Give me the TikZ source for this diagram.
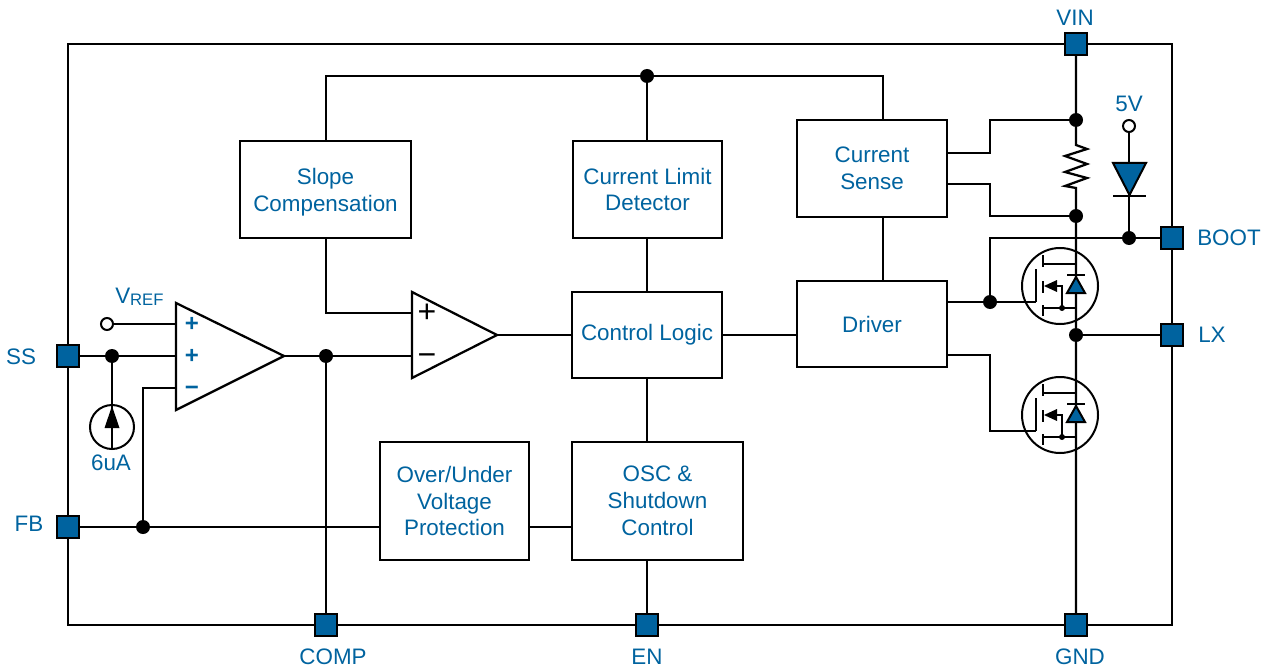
\documentclass[tikz,border=0pt]{standalone}
\usepackage{fontspec}
\setmainfont{Liberation Sans}
\definecolor{tiblue}{HTML}{00639F}
\def\px{0.75pt}
\tikzset{
  wire/.style={line width=1.7pt,black,line join=miter},
  thin wire/.style={line width=1.5pt,black},
  chipbox/.style={draw,line width=1.6pt,inner sep=0pt,outer sep=0pt,minimum width=1104*\px,minimum height=581*\px},
  fb/.style={draw,line width=1.6pt,inner sep=0pt,outer sep=0pt,text=tiblue,align=center,font=\fontsize{16.8}{20.2}\selectfont},
  pin/.style={draw,line width=1.5pt,fill=tiblue,inner sep=0pt,outer sep=0pt,minimum size=22*\px},
  dot/.style={circle,fill=black,inner sep=0pt,outer sep=0pt,minimum size=14*\px},
  smalldot/.style={circle,fill=black,inner sep=0pt,outer sep=0pt,minimum size=6*\px},
  opencirc/.style={circle,draw,line width=1.5pt,fill=white,inner sep=0pt,outer sep=0pt,minimum size=12*\px},
  lbl/.style={text=tiblue,inner sep=0pt,font=\fontsize{16.8}{20.2}\selectfont},
  sign/.style={text=tiblue,inner sep=0pt,font=\bfseries\fontsize{18}{18}\selectfont},
  bsign/.style={text=black,inner sep=0pt,font=\fontsize{24}{24}\selectfont},
  mosdiode/.style={draw=black,line width=1.5pt,fill=tiblue,line join=miter},
}
\begin{document}
\begin{tikzpicture}[x=0.75pt,y=-0.75pt]
\useasboundingbox (0,0) rectangle (1269,670);
% chip outline
\node[chipbox] (chip) at (620,334.5) {};
% function blocks
\node[fb,minimum width=171*\px,minimum height=97*\px] (slope) at (325.5,189.5) {\rule{0pt}{16pt}Slope\\Compensation};
\node[fb,minimum width=149*\px,minimum height=97*\px] (limit) at (647.5,189.5) {Current Limit\\Detector};
\node[fb,minimum width=150*\px,minimum height=97*\px] (sense) at (872,168.5) {Current\\Sense};
\node[fb,minimum width=150*\px,minimum height=86*\px] (logic) at (647,335) {Control Logic};
\node[fb,minimum width=150*\px,minimum height=86*\px] (driver) at (872,324) {Driver};
\node[fb,minimum width=149*\px,minimum height=118*\px] (ovp) at (454.5,501) {Over/Under\\Voltage\\Protection};
\node[fb,minimum width=171*\px,minimum height=118*\px] (osc) at (657.5,501) {OSC \&\\Shutdown\\Control};
% pins
\node[pin] (vin) at (1076,44) {};
\node[pin] (boot) at (1172,238) {};
\node[pin] (lx) at (1172,335) {};
\node[pin] (gnd) at (1076,625) {};
\node[pin] (en) at (647,625) {};
\node[pin] (comp) at (326,625) {};
\node[pin] (fbpin) at (68,527) {};
\node[pin] (ss) at (68,356) {};
% pin labels
\node[lbl] (lvin) at (1075,18) {VIN};
\node[lbl,anchor=west] (lboot) at (1197,238) {BOOT};
\node[lbl,anchor=west] (llx) at (1198,335) {LX};
\node[lbl] (lgnd) at (1080,657) {GND};
\node[lbl] (len) at (647,657) {EN};
\node[lbl] (lcomp) at (333,657) {COMP};
\node[lbl] (lfb) at (29,524) {FB};
\node[lbl] (lss) at (21,357) {SS};
\node[lbl] (l5v) at (1129,104) {5V};
\node[lbl] (l6ua) at (111,463) {6uA};
\node[lbl,anchor=base west] (lvref) at (115,303) {V\raisebox{-2pt}{\fontsize{12.5}{12.5}\selectfont REF}};
% junctions
\node[dot] (jtop) at (647,76) {};
\node[dot] (jr1) at (1076,120) {};
\node[dot] (jr2) at (1076,216) {};
\node[dot] (jlx) at (1076,335) {};
\node[dot] (jboot) at (1129,238) {};
\node[dot] (jgate) at (990,302) {};
\node[dot] (jcomp) at (326,356) {};
\node[dot] (jss) at (112,356) {};
\node[dot] (jfb) at (143,527) {};
\node[opencirc] (vrefc) at (107,324) {};
\node[opencirc] (fivec) at (1129,126) {};
% amplifiers
\coordinate (oa1) at (176,303); \coordinate (oa2) at (176,410); \coordinate (oaout) at (284,356);
\coordinate (oain1) at (176,324); \coordinate (oain2) at (176,356); \coordinate (oain3) at (176,388);
\draw[wire] (oa1) -- (oaout) -- (oa2) -- cycle;
\node[sign] (op1) at (192,324) {+};
\node[sign] (op2) at (192,356) {+};
\node[sign] (op3) at (192,391) {−};
\coordinate (cm1) at (412,292); \coordinate (cm2) at (412,378); \coordinate (cmout) at (497,335);
\coordinate (cmin1) at (412,313); \coordinate (cmin2) at (412,356);
\draw[wire] (cm1) -- (cmout) -- (cm2) -- cycle;
\node[bsign] (cp1) at (427,313) {+};
\node[bsign] (cp2) at (427,360) {−};
% top bus
\coordinate (tl) at (326,76); \coordinate (tr) at (883,76);
\coordinate (st) at (326,141); \coordinate (sb) at (326,238);
\coordinate (set) at (883,120); \coordinate (seb) at (883,217); \coordinate (drt) at (883,281);
\draw[wire] (st) -- (tl) -- (jtop) -- (tr) -- (set);
\draw[wire] (jtop) -- (jtop |- limit.north);
\draw[wire] (seb) -- (drt);
\draw[wire] (jtop |- limit.south) -- (jtop |- logic.north);
\draw[wire] (jtop |- logic.south) -- (jtop |- osc.north);
\draw[wire] (logic.east) -- (logic.east -| driver.west);
\draw[wire] (cmout) -- (logic.west);
\draw[wire] (sb) |- (cmin1);
\draw[wire] (oaout) -- (jcomp) -- (cmin2);
\draw[wire] (jcomp) -- (comp);
\draw[wire] (vrefc) -- (oain1);
\draw[wire] (ss) -- (jss) -- (oain2);
\draw[wire] (fbpin) -- (jfb) -- (ovp.west |- jfb);
\draw[wire] (jfb) |- (oain3);
\coordinate (ovpe) at (529,527); \coordinate (osw) at (572,527);
\draw[wire] (ovpe) -- (osw);
\coordinate (oscb) at (647,560);
\draw[wire] (oscb) -- (en);
% current source
\node[circle,draw,line width=1.5pt,inner sep=0pt,outer sep=0pt,minimum size=44*\px] (isrc) at (112,427) {};
\coordinate (isb) at (112,449);
\draw[wire] (jss) -- (isb);
\coordinate (isa) at (112,406); \coordinate (isl) at (104.5,428); \coordinate (isr) at (119.5,428);
\fill (isa) -- (isr) -- (isl) -- cycle;
% power rail
\coordinate (rt) at (1076,145); \coordinate (rb) at (1076,188);
\draw[wire] (vin) -- (jr1) -- (rt) -- (1087,149) -- (1065,156) -- (1087,164) -- (1065,172) -- (1087,178) -- (1065,186) -- (rb) -- (jr2) -- (jlx) -- (gnd);
\draw[wire] (jlx) -- (lx);
% sense connections
\coordinate (seo1) at (947,153); \coordinate (seo2) at (947,184);
\coordinate (b1) at (990,153); \coordinate (b2) at (990,120);
\coordinate (b3) at (990,184); \coordinate (b4) at (990,216);
\draw[wire] (seo1) -- (b1) -- (b2) -- (jr1);
\draw[wire] (seo2) -- (b3) -- (b4) -- (jr2);
% boot
\coordinate (b5) at (990,238);
\draw[wire] (jgate) -- (b5) -- (jboot) -- (boot);
\draw[wire] (fivec) -- (jboot);
\coordinate (dt1) at (1113,163); \coordinate (dt2) at (1146,163); \coordinate (dt3) at (1129.5,195);
\draw[mosdiode] (dt1) -- (dt2) -- (dt3) -- cycle;
\coordinate (db1) at (1113,196); \coordinate (db2) at (1146,196);
\draw[thin wire] (db1) -- (db2);
% driver to gates
\coordinate (dro1) at (947,302); \coordinate (g1) at (1036,302);
\draw[wire] (dro1) -- (jgate) -- (g1);
\coordinate (dro2) at (947,355); \coordinate (b6) at (990,355); \coordinate (b7) at (990,431); \coordinate (g2) at (1036,431);
\draw[wire] (dro2) -- (b6) -- (b7) -- (g2);
% MOSFETs
\foreach \n/\dy in {a/0,b/129}{
  \begin{scope}[yshift=-0.75pt*\dy]
    \node[circle,draw,line width=1.5pt,inner sep=0pt,outer sep=0pt,minimum size=76*\px] (mos\n) at (1060,286) {};
    \draw[thin wire] (1036,269) -- (1036,302);
    \draw[wire] (1043,255) -- (1043,267);
    \draw[wire] (1043,281) -- (1043,293);
    \draw[wire] (1043,305) -- (1043,316);
    \draw[thin wire] (1043,264) -- (1076,264);
    \draw[thin wire] (1043,308) -- (1076,308);
    \draw[thin wire] (1056,286) -- (1062,286) -- (1062,308);
    \fill (1044,286) -- (1057,280) -- (1057,292) -- cycle;
    \node[smalldot] (ms\n) at (1062,308) {};
    \draw[mosdiode] (1076,277) -- (1085,293) -- (1067,293) -- cycle;
    \draw[thin wire] (1067,275) -- (1085,275);
  \end{scope}
}
\end{tikzpicture}
\end{document}
